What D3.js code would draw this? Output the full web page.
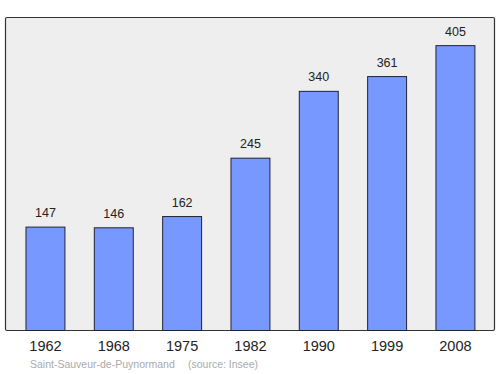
<!DOCTYPE html>
<html>
<head>
<meta charset="utf-8">
<script src="https://cdn.jsdelivr.net/npm/d3@7"></script>
<style>
  body { margin: 0; background: #fff; }
  text { font-family: "Liberation Sans", Arial, sans-serif; }
</style>
</head>
<body>
<script>
const years = ['1962', '1968', '1975', '1982', '1990', '1999', '2008'];
const population = [147, 146, 162, 245, 340, 361, 405];
const commune = 'Saint-Sauveur-de-Puynormand';
const source = '(source: Insee)';

const width = 500;
const height = 374;
const box = {left: 5.5, right: 494.5, top: 17.5, bottom: 330.5};

const svg = d3.select('body').append('svg')
  .attr('width', width)
  .attr('height', height);

svg.append('rect')
  .attr('x', box.left)
  .attr('y', box.top)
  .attr('width', box.right - box.left)
  .attr('height', box.bottom - box.top)
  .attr('rx', 1.5)
  .style('fill', '#eeeeee')
  .style('stroke', '#333333')
  .style('stroke-width', 1.2);

const xScale = d3.scaleBand()
  .domain(years)
  .range([11.3, 489.6])
  .paddingInner(0.43)
  .paddingOuter(0.215);

const yScale = d3.scaleLinear()
  .domain([0, 445])
  .range([box.bottom, box.top]);

svg.selectAll('.bar')
  .data(population)
  .enter()
  .append('rect')
  .attr('class', 'bar')
  .attr('x', (d, i) => xScale(years[i]))
  .attr('y', d => yScale(d))
  .attr('width', xScale.bandwidth())
  .attr('height', d => yScale(0) - yScale(d))
  .style('fill', '#7799ff')
  .style('stroke', '#222233')
  .style('stroke-width', 1);

svg.selectAll('.value')
  .data(population)
  .enter()
  .append('text')
  .attr('class', 'value')
  .text(d => d)
  .attr('x', (d, i) => xScale(years[i]) + xScale.bandwidth() / 2)
  .attr('y', d => yScale(d) - 10)
  .attr('text-anchor', 'middle')
  .style('font-size', '12.5px')
  .style('fill', '#222');

const xAxis = svg.append('g')
  .attr('transform', `translate(0, ${box.bottom})`)
  .call(d3.axisBottom(xScale).tickSize(0).tickPadding(10));
xAxis.select('.domain').remove();
xAxis.selectAll('text')
  .style('font-size', '14.5px')
  .style('fill', '#222')
  .style('font-family', '"Liberation Sans", Arial, sans-serif');

svg.append('text')
  .text(commune)
  .attr('x', 30)
  .attr('y', 368)
  .style('font-size', '10.5px')
  .style('fill', '#aaaaaa');

svg.append('text')
  .text(source)
  .attr('x', 188)
  .attr('y', 368)
  .style('font-size', '10.5px')
  .style('fill', '#aaaaaa');
</script>
</body>
</html>
